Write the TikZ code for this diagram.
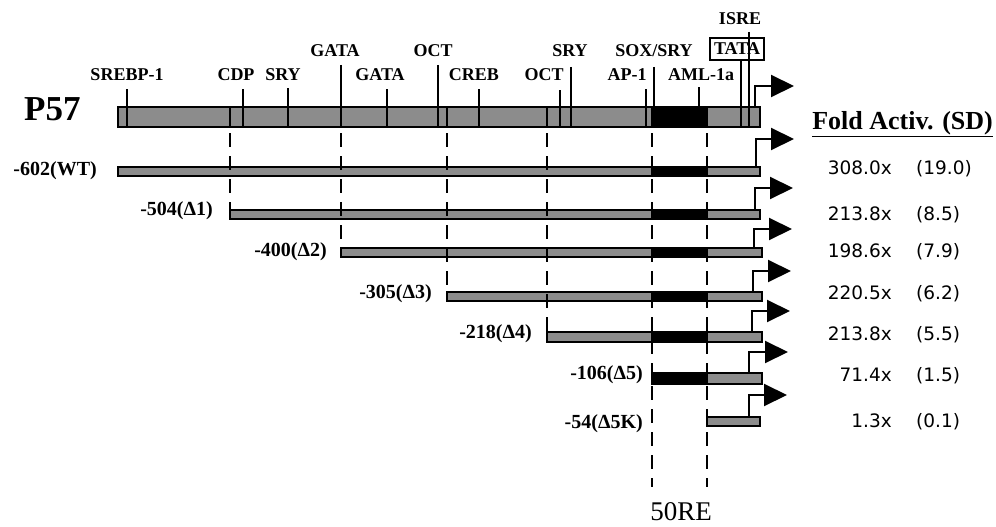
\documentclass[tikz,border=0pt]{standalone}
\usepackage{fontspec}
\setmainfont{Liberation Serif}
\newfontfamily\valfont{DejaVu Sans}
\usetikzlibrary{arrows.meta}
\definecolor{bargray}{RGB}{140,140,140}
\newcommand{\sizedfont}[1]{\fontsize{#1}{#1}\selectfont}

\begin{document}
\begin{tikzpicture}[x=1pt, y=-1pt,
  bar/.style={draw=black, line width=2pt, fill=bargray},
  core/.style={draw=black, line width=2pt, fill=black},
  site/.style={line width=2pt},
  cut/.style={line width=2pt, dash pattern=on 14pt off 9pt, dash phase=17pt},
  tss/.style={line width=2pt, -{Triangle[length=23pt, width=22pt]}},
  tflab/.style={anchor=base, inner sep=0pt, font=\sizedfont{18}\bfseries},
  rowlab/.style={anchor=east, inner sep=0pt, font=\sizedfont{20}\bfseries},
  foldval/.style={anchor=base east, inner sep=0pt, font=\valfont\sizedfont{18.5}},
  sdval/.style={anchor=base west, inner sep=0pt, font=\valfont\sizedfont{18.5}}]
  \useasboundingbox (0,0) rectangle (996,527);

  % full promoter
  \node[anchor=base west, inner sep=0pt, font=\sizedfont{35}\bfseries] (p57) at (24,120) {P57};
  \draw[bar] (118,107) rectangle (760,127);
  \draw[core] (652,107) rectangle (707,127);
  \draw[site] (230,107) -- (230,127);
  \draw[site] (447,107) -- (447,127);
  \draw[site] (547,107) -- (547,127);

  % binding sites
  \node[tflab] (srebp) at (127,81) {SREBP-1};
  \node[tflab] (cdp) at (236,81) {CDP};
  \node[tflab] (sryA) at (283,81) {SRY};
  \node[tflab] (gataA) at (335,57) {GATA};
  \node[tflab] (gataB) at (380,81) {GATA};
  \node[tflab] (octA) at (433,57) {OCT};
  \node[tflab] (creb) at (474,81) {CREB};
  \node[tflab] (octB) at (544,81) {OCT};
  \node[tflab] (sryB) at (570,57) {SRY};
  \node[tflab] (ap1) at (627,81) {AP-1};
  \node[tflab] (soxsry) at (654,57) {SOX/SRY};
  \node[tflab] (aml) at (701,81) {AML-1a};
  \node[tflab] (isre) at (740,25) {ISRE};
  \node[draw, line width=1.5pt, inner sep=0pt, minimum width=54pt, minimum height=22pt,
        font=\sizedfont{18}\bfseries] (tata) at (737,49) {TATA};

  \draw[site] (127,89) -- (127,127);
  \draw[site] (243,89) -- (243,127);
  \draw[site] (288,88) -- (288,127);
  \draw[site] (341,65) -- (341,127);
  \draw[site] (387,89) -- (387,127);
  \draw[site] (438,65) -- (438,127);
  \draw[site] (479,89) -- (479,127);
  \draw[site] (560,90) -- (560,127);
  \draw[site] (571,67) -- (571,127);
  \draw[site] (646,89) -- (646,127);
  \draw[site] (654,67) -- (654,127);
  \draw[site] (699,87) -- (699,127);
  \draw[site] (741,60) -- (741,127);
  \draw[site] (749,32) -- (749,127);
  \draw[tss] (755,107) |- (794,86);

  % deletion constructs
  \draw[bar] (118,167) rectangle (760,176);
  \draw[core] (652,167) rectangle (707,176);
  \draw[tss] (756,167) |- (794,139);

  \draw[bar] (230,210) rectangle (760,219);
  \draw[core] (652,210) rectangle (707,219);
  \draw[tss] (755,210) |- (793,188);

  \draw[bar] (341,248) rectangle (762,257);
  \draw[core] (652,248) rectangle (707,257);
  \draw[tss] (754,248) |- (792,229);

  \draw[bar] (447,292) rectangle (762,301);
  \draw[core] (652,292) rectangle (707,301);
  \draw[tss] (753,292) |- (791,271);

  \draw[bar] (547,332) rectangle (762,342);
  \draw[core] (652,332) rectangle (707,342);
  \draw[tss] (752,332) |- (790,311);

  \draw[bar] (652,373) rectangle (762,384);
  \draw[core] (652,373) rectangle (707,384);
  \draw[tss] (749,373) |- (788,352);

  \draw[bar] (707,417) rectangle (760,426);
  \draw[tss] (749,417) |- (787,395);

  % deletion end points
  \draw[cut] (230,127) -- (230,219);
  \draw[cut] (341,127) -- (341,257);
  \draw[cut] (447,127) -- (447,301);
  \draw[cut] (547,127) -- (547,342);
  \draw[cut] (652,127) -- (652,487);
  \draw[cut] (707,127) -- (707,487);

  \node[rowlab] (wt) at (97,171) {-602(WT)};
  \node[rowlab] (d1) at (213,211) {-504(Δ1)};
  \node[rowlab] (d2) at (327,252) {-400(Δ2)};
  \node[rowlab] (d3) at (432,294) {-305(Δ3)};
  \node[rowlab] (d4) at (532,334) {-218(Δ4)};
  \node[rowlab] (d5) at (643,375) {-106(Δ5)};
  \node[rowlab] (d5k) at (643,424) {-54(Δ5K)};

  \node[anchor=base, inner sep=0pt, font=\sizedfont{27}] (re) at (681,520) {50RE};

  % activities
  \node[anchor=base east, inner sep=0pt, font=\sizedfont{26}\bfseries] (head) at (993,129)
    {\underline{Fold Activ. (SD)}};
  \node[foldval] (fwt) at (892,174) {308.0x};  \node[sdval] (swt) at (916,174) {(19.0)};
  \node[foldval] (fd1) at (892,220) {213.8x};  \node[sdval] (sd1) at (916,220) {(8.5)};
  \node[foldval] (fd2) at (892,257) {198.6x};  \node[sdval] (sd2) at (916,257) {(7.9)};
  \node[foldval] (fd3) at (892,299) {220.5x};  \node[sdval] (sd3) at (916,299) {(6.2)};
  \node[foldval] (fd4) at (892,340) {213.8x};  \node[sdval] (sd4) at (916,340) {(5.5)};
  \node[foldval] (fd5) at (892,381) {71.4x};   \node[sdval] (sd5) at (916,381) {(1.5)};
  \node[foldval] (fd5k) at (892,427) {1.3x};   \node[sdval] (sd5k) at (916,427) {(0.1)};
\end{tikzpicture}
\end{document}
